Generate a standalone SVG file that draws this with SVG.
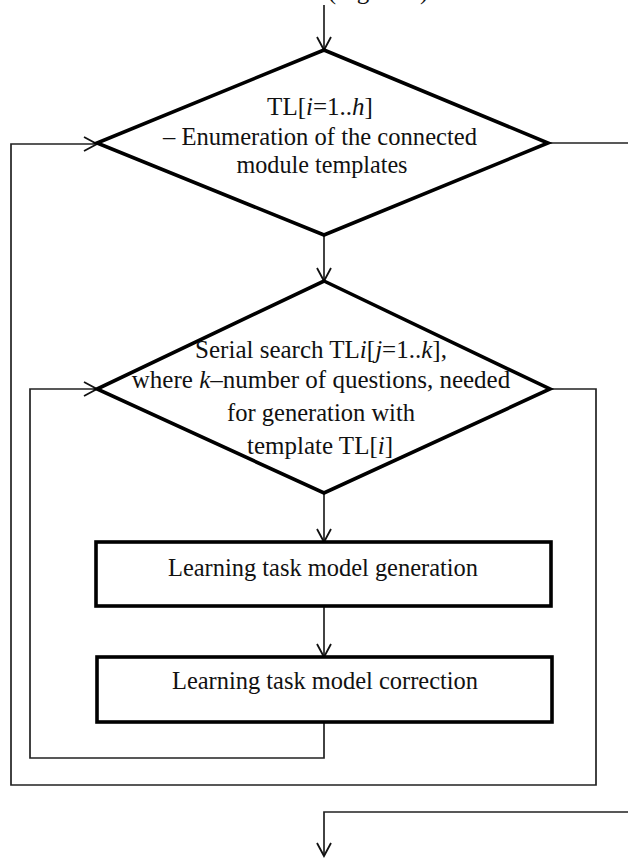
<svg xmlns="http://www.w3.org/2000/svg" width="628" height="858" viewBox="0 0 628 858">
  <defs>
    <marker id="arrow" markerUnits="userSpaceOnUse" markerWidth="16" markerHeight="18" refX="13" refY="8" orient="auto" overflow="visible">
      <path d="M0,1 L13,8 L0,15" fill="none" stroke="#111" stroke-width="1.8"/>
    </marker>
    <style>
      .shape { fill: #fff; stroke: #000; stroke-width: 3.6; stroke-linejoin: miter; }
      .conn { fill: none; stroke: #222; stroke-width: 1.7; }
      .lbl { font-family: "Liberation Serif", "Times New Roman", serif; font-size: 25px; fill: #111; text-anchor: middle; }
      .it { font-style: italic; }
    </style>
  </defs>
  <rect width="628" height="858" fill="#fff"/>

  <!-- caption continued from the previous page, only its lower edge falls inside -->
  <text class="lbl" x="378" y="-1">(Figure 3)</text>

  <g id="connectors">
    <!-- entry into the outer loop -->
    <path class="conn" d="M324,5 V50" marker-end="url(#arrow)"/>
    <!-- outer decision to inner decision -->
    <path class="conn" d="M324,235 V281" marker-end="url(#arrow)"/>
    <!-- inner decision to generation -->
    <path class="conn" d="M324,493 V542" marker-end="url(#arrow)"/>
    <!-- generation to correction -->
    <path class="conn" d="M324,606 V657" marker-end="url(#arrow)"/>
    <!-- inner loop back edge -->
    <path class="conn" d="M324,722 V758 H30 V389 H97" marker-end="url(#arrow)"/>
    <!-- inner loop exit, outer loop back edge -->
    <path class="conn" d="M550,389 H596 V785 H11 V144 H97" marker-end="url(#arrow)"/>
    <!-- outer loop exit -->
    <path class="conn" d="M548,143 H628"/>
    <path class="conn" d="M628,812 H324 V856" marker-end="url(#arrow)"/>
  </g>

  <g id="outer-loop">
    <polygon class="shape" points="324,50 548,143 324,235 97,143"/>
    <text class="lbl" x="320" y="115">TL[<tspan class="it">i</tspan>=1..<tspan class="it">h</tspan>]</text>
    <text class="lbl" x="320" y="145" textLength="314" lengthAdjust="spacingAndGlyphs">– Enumeration of the connected</text>
    <text class="lbl" x="322" y="173" textLength="171" lengthAdjust="spacingAndGlyphs">module templates</text>
  </g>

  <g id="inner-loop">
    <polygon class="shape" points="324,281 550,389 324,493 97,389"/>
    <text class="lbl" x="321" y="358">Serial search TL<tspan class="it">i</tspan>[<tspan class="it">j</tspan>=1..<tspan class="it">k</tspan>],</text>
    <text class="lbl" x="321" y="388">where <tspan class="it">k</tspan>–number of questions, needed</text>
    <text class="lbl" x="321" y="421" textLength="188" lengthAdjust="spacingAndGlyphs">for generation with</text>
    <text class="lbl" x="320" y="454">template TL[<tspan class="it">i</tspan>]</text>
  </g>

  <g id="generation">
    <rect class="shape" x="96" y="542" width="455" height="64"/>
    <text class="lbl" x="323" y="576" textLength="310" lengthAdjust="spacingAndGlyphs">Learning task model generation</text>
  </g>

  <g id="correction">
    <rect class="shape" x="97" y="657" width="455" height="65"/>
    <text class="lbl" x="325" y="689" textLength="306" lengthAdjust="spacingAndGlyphs">Learning task model correction</text>
  </g>
</svg>
